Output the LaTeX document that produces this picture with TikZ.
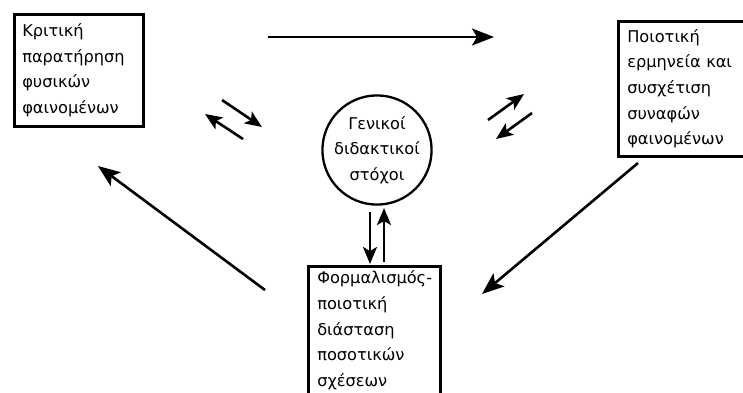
\documentclass[tikz,border=0pt]{standalone}
\usepackage{fontspec}
\setmainfont{DejaVu Sans}
\usetikzlibrary{arrows.meta}
\begin{document}
\begin{tikzpicture}[x=1pt,y=-1pt,
  txt/.style={font=\fontsize{16.2}{25.7}\selectfont, align=left},
  boxnode/.style={txt, draw, line width=2.5pt, inner ysep=0pt},
  goal/.style={txt, draw, circle, line width=2.3pt, minimum size=92pt, inner sep=0pt, align=center},
  arr/.style={line width=2.6pt, -{Stealth[length=22pt,width=17pt,inset=5pt]}},
  sarr/.style={line width=2.6pt, -{Stealth[length=17pt,width=14pt,inset=4pt]}}]
\useasboundingbox (0,0) rectangle (743,392);
\node[boxnode, anchor=north west, text width=113pt, inner xsep=8pt, minimum height=112pt] (obs) at (13,13)
  {Κριτική\\παρατήρηση\\φυσικών\\φαινομένων};
\node[boxnode, anchor=north west, text width=116pt, inner xsep=9pt, minimum height=135pt] (interp) at (617,20)
  {Ποιοτική\\ερμηνεία και\\συσχέτιση\\συναφών\\φαινομένων};
\node[boxnode, anchor=north west, text width=114pt, inner xsep=9pt, minimum height=128pt] (form) at (307,265)
  {\mbox{Φορμαλισμός-}\\ποιοτική\\διάσταση\\ποσοτικών\\σχέσεων};
\node[goal] (goals) at (377,150) {Γενικοί\\διδακτικοί\\στόχοι};
% arrow end points
\coordinate (t1) at (268,37); \coordinate (t2) at (494,37);
\coordinate (l1a) at (222,100); \coordinate (l1b) at (262,127);
\coordinate (l2a) at (243,139); \coordinate (l2b) at (205,114);
\coordinate (r1a) at (488,120); \coordinate (r1b) at (524,94);
\coordinate (r2a) at (532,113); \coordinate (r2b) at (496,139);
\coordinate (rda) at (638,163); \coordinate (rdb) at (482,294);
\coordinate (lua) at (265,290); \coordinate (lub) at (98,166);
\coordinate (v1a) at (370,212); \coordinate (v1b) at (370,264);
\coordinate (v2a) at (384,262); \coordinate (v2b) at (384,208);
\draw[arr] (t1) -- (t2);
\draw[sarr] (l1a) -- (l1b);
\draw[sarr] (l2a) -- (l2b);
\draw[sarr] (r1a) -- (r1b);
\draw[sarr] (r2a) -- (r2b);
\draw[arr] (rda) -- (rdb);
\draw[arr] (lua) -- (lub);
\draw[sarr] (v1a) -- (v1b);
\draw[sarr] (v2a) -- (v2b);
\end{tikzpicture}
\end{document}
